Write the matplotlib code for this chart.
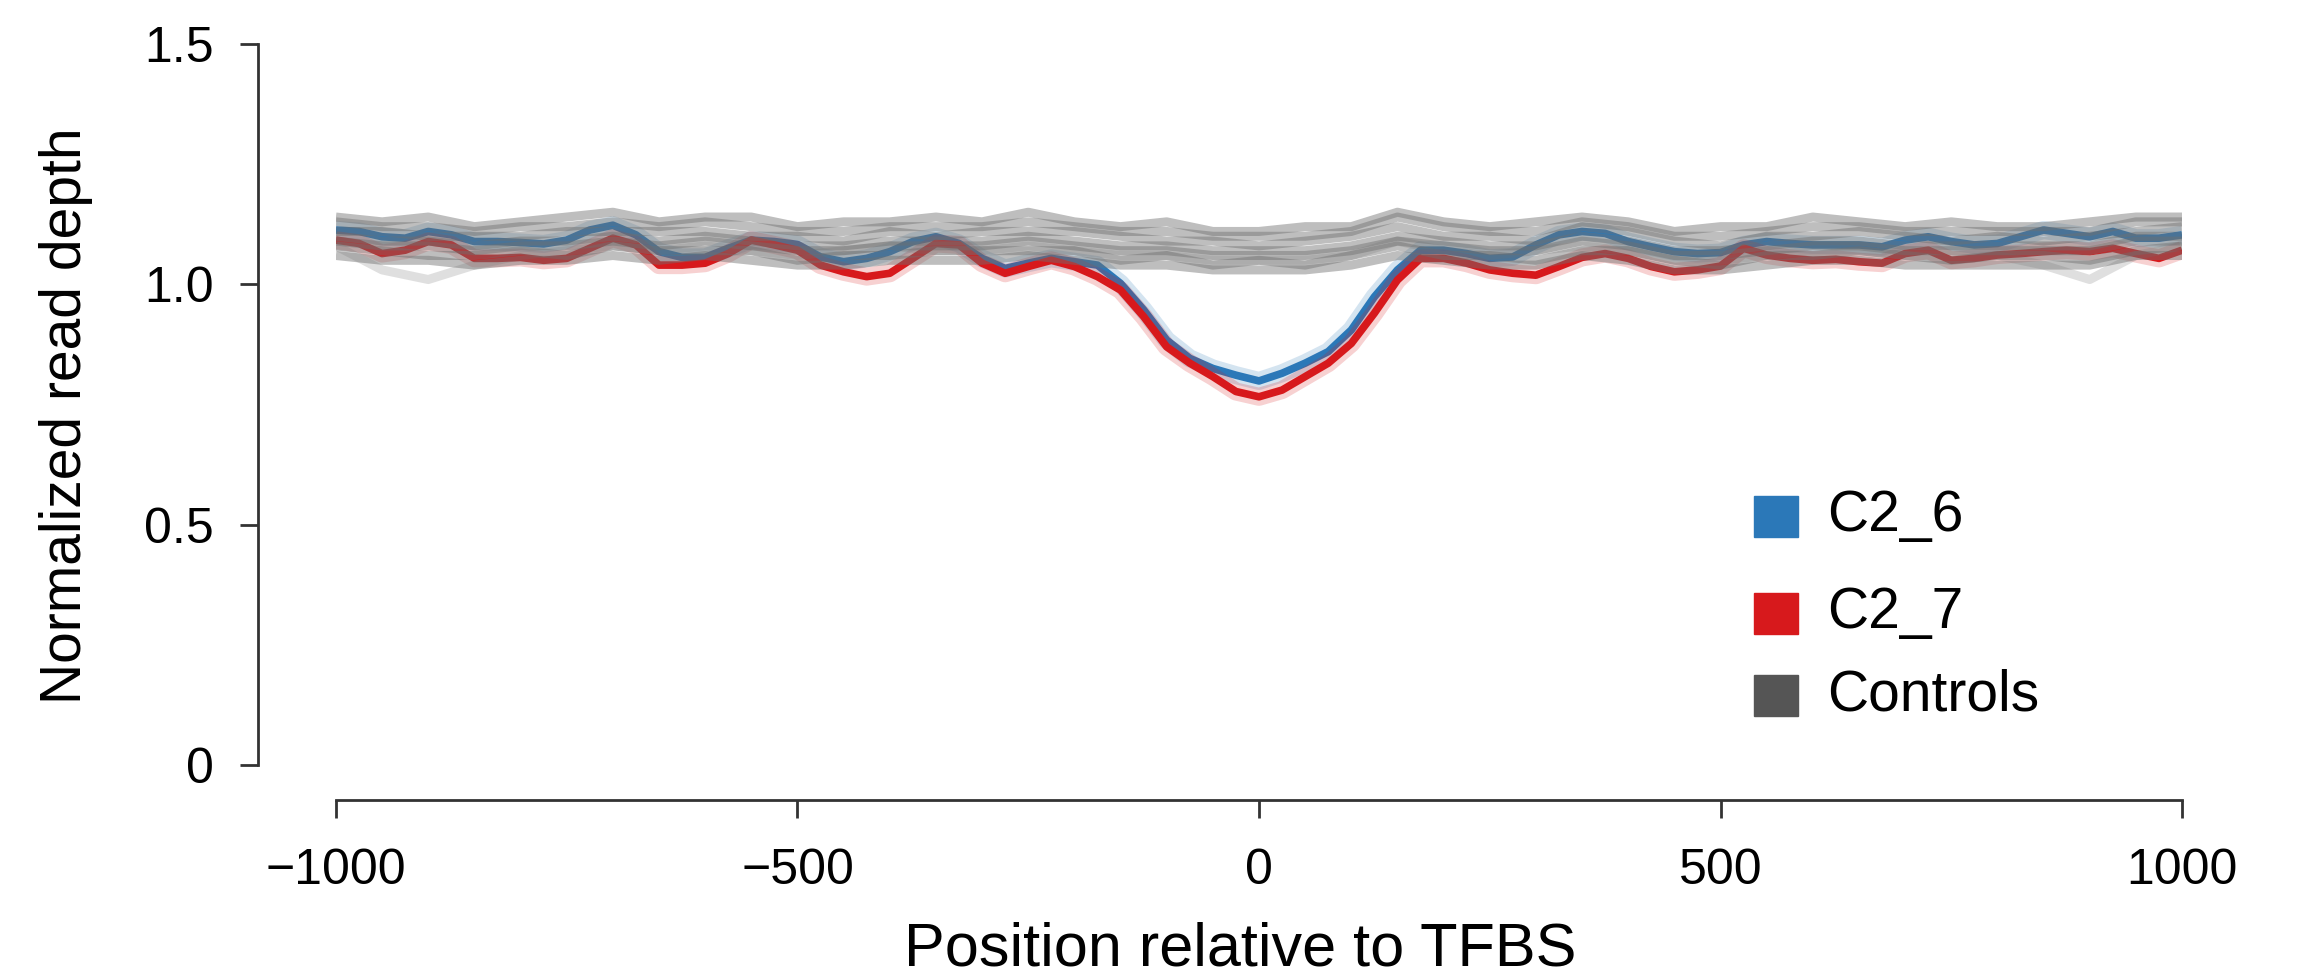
import matplotlib
matplotlib.use("Agg")
import matplotlib.pyplot as plt
from matplotlib.patches import Rectangle
import numpy as np

plt.rcParams['font.family'] = ['Liberation Sans', 'DejaVu Sans']

# positions relative to TFBS (bp)
pos_fine = np.arange(-1000, 1001, 25)
pos_ctrl = np.arange(-1000, 1001, 50)

# C2_6 (blue), read every 25 bp
c2_6 = [1.113, 1.110, 1.099, 1.096, 1.110, 1.103, 1.089, 1.089, 1.087, 1.084,
        1.092, 1.113, 1.123, 1.103, 1.068, 1.056, 1.056, 1.075, 1.092, 1.089,
        1.083, 1.057, 1.047, 1.054, 1.068, 1.089, 1.099, 1.085, 1.054, 1.033,
        1.044, 1.054, 1.047, 1.040, 1.002, 0.947, 0.884, 0.846, 0.825, 0.811,
        0.799, 0.815, 0.836, 0.860, 0.905, 0.974, 1.030, 1.071, 1.071, 1.064,
        1.054, 1.057, 1.082, 1.103, 1.110, 1.106, 1.089, 1.078, 1.068, 1.064,
        1.066, 1.082, 1.089, 1.085, 1.082, 1.082, 1.082, 1.078, 1.092, 1.099,
        1.089, 1.082, 1.085, 1.099, 1.113, 1.106, 1.099, 1.110, 1.096, 1.096,
        1.103]

# C2_7 (red)
c2_7 = [1.092, 1.085, 1.064, 1.071, 1.089, 1.082, 1.054, 1.054, 1.056, 1.050,
        1.054, 1.075, 1.096, 1.082, 1.040, 1.040, 1.044, 1.064, 1.092, 1.082,
        1.071, 1.040, 1.026, 1.016, 1.023, 1.054, 1.085, 1.082, 1.044, 1.023,
        1.037, 1.050, 1.037, 1.016, 0.988, 0.933, 0.870, 0.836, 0.808, 0.777,
        0.766, 0.780, 0.808, 0.836, 0.877, 0.940, 1.009, 1.054, 1.054, 1.044,
        1.030, 1.023, 1.019, 1.037, 1.056, 1.064, 1.054, 1.037, 1.026, 1.030,
        1.038, 1.075, 1.061, 1.054, 1.050, 1.052, 1.047, 1.044, 1.064, 1.071,
        1.050, 1.054, 1.061, 1.064, 1.068, 1.071, 1.068, 1.075, 1.064, 1.054,
        1.071]

# control samples, read every 50 bp
ctrl1 = [1.14, 1.13, 1.14, 1.12, 1.13, 1.14, 1.15, 1.13, 1.14, 1.14, 1.12, 1.13, 1.13, 1.14,
         1.13, 1.15, 1.13, 1.12, 1.13, 1.11, 1.11, 1.12, 1.12, 1.15, 1.13, 1.12, 1.13, 1.14,
         1.13, 1.11, 1.12, 1.12, 1.14, 1.13, 1.12, 1.13, 1.12, 1.12, 1.13, 1.14, 1.14]
ctrl2 = [1.13, 1.12, 1.12, 1.11, 1.12, 1.12, 1.13, 1.12, 1.13, 1.12, 1.11, 1.11, 1.12, 1.12,
         1.12, 1.13, 1.12, 1.11, 1.11, 1.10, 1.10, 1.10, 1.11, 1.14, 1.12, 1.11, 1.11, 1.13,
         1.12, 1.10, 1.10, 1.11, 1.12, 1.12, 1.11, 1.11, 1.11, 1.11, 1.11, 1.13, 1.13]
ctrl3 = [1.11, 1.11, 1.10, 1.10, 1.10, 1.11, 1.11, 1.11, 1.11, 1.10, 1.10, 1.09, 1.11, 1.10,
         1.11, 1.11, 1.11, 1.10, 1.09, 1.09, 1.08, 1.09, 1.10, 1.12, 1.10, 1.10, 1.09, 1.12,
         1.11, 1.09, 1.08, 1.10, 1.10, 1.11, 1.10, 1.09, 1.10, 1.09, 1.10, 1.11, 1.12]
ctrl4 = [1.10, 1.09, 1.09, 1.08, 1.09, 1.09, 1.10, 1.09, 1.10, 1.09, 1.08, 1.08, 1.09, 1.09,
         1.09, 1.10, 1.09, 1.08, 1.08, 1.07, 1.07, 1.07, 1.08, 1.10, 1.09, 1.08, 1.08, 1.10,
         1.09, 1.07, 1.07, 1.08, 1.09, 1.09, 1.08, 1.08, 1.08, 1.08, 1.08, 1.10, 1.10]
ctrl5 = [1.09, 1.08, 1.08, 1.07, 1.08, 1.08, 1.09, 1.08, 1.09, 1.08, 1.07, 1.07, 1.08, 1.08,
         1.08, 1.09, 1.08, 1.07, 1.07, 1.06, 1.06, 1.06, 1.07, 1.09, 1.08, 1.07, 1.07, 1.09,
         1.08, 1.06, 1.06, 1.07, 1.08, 1.08, 1.07, 1.07, 1.07, 1.07, 1.07, 1.09, 1.09]
ctrl6 = [1.08, 1.07, 1.06, 1.06, 1.07, 1.06, 1.08, 1.07, 1.07, 1.07, 1.05, 1.06, 1.06, 1.07,
         1.07, 1.07, 1.07, 1.05, 1.06, 1.04, 1.05, 1.04, 1.06, 1.08, 1.06, 1.06, 1.05, 1.07,
         1.07, 1.05, 1.04, 1.06, 1.06, 1.07, 1.06, 1.05, 1.06, 1.06, 1.05, 1.07, 1.08]
ctrl7 = [1.06, 1.05, 1.05, 1.04, 1.05, 1.05, 1.06, 1.05, 1.06, 1.05, 1.04, 1.04, 1.05, 1.05,
         1.05, 1.06, 1.05, 1.04, 1.04, 1.03, 1.03, 1.03, 1.04, 1.06, 1.05, 1.04, 1.04, 1.06,
         1.05, 1.03, 1.03, 1.04, 1.05, 1.05, 1.04, 1.04, 1.04, 1.04, 1.04, 1.06, 1.06]
ctrl8 = [1.08, 1.03, 1.01, 1.04, 1.06, 1.07, 1.08, 1.07, 1.08, 1.07, 1.06, 1.07, 1.08, 1.07,
         1.07, 1.08, 1.07, 1.06, 1.06, 1.05, 1.05, 1.05, 1.06, 1.09, 1.07, 1.06, 1.07, 1.08,
         1.07, 1.05, 1.05, 1.06, 1.07, 1.07, 1.06, 1.06, 1.06, 1.04, 1.01, 1.06, 1.08]
controls = [ctrl1, ctrl2, ctrl3, ctrl4, ctrl5, ctrl6, ctrl7, ctrl8]

labels = ['C2_6', 'C2_7', 'Controls']
colors = ['#2b78b8', '#d7191c', '#555555']

fig = plt.figure(figsize=(23.01, 9.8), dpi=100)
ax = fig.add_axes([0.1460, 0.2194, 0.8023, 0.7357])

# sample lines with a light halo
for y, c in [(c2_6, colors[0]), (c2_7, colors[1])]:
    ax.plot(pos_fine, y, color=c, lw=13, alpha=0.2, solid_capstyle='butt')
    ax.plot(pos_fine, y, color=c, lw=5.5, solid_capstyle='butt')

# controls drawn on top, semi transparent
for i, ctrl in enumerate(controls):
    a = 0.22 if i == 7 else 0.45
    ax.plot(pos_ctrl, ctrl, color='#6f6f6f', lw=6.5, alpha=a, solid_capstyle='butt')

ax.set_xlim(-1000, 1000)
ax.set_ylim(0, 1.5)
ax.set_xticks([-1000, -500, 0, 500, 1000])
ax.set_yticks([0, 0.5, 1.0, 1.5])
ax.set_yticklabels(['0', '0.5', '1.0', '1.5'])

for s in ['top', 'right']:
    ax.spines[s].set_visible(False)
ax.spines['left'].set_position(('outward', 56))
ax.spines['bottom'].set_position(('outward', 25))
ax.spines['left'].set_bounds(0, 1.5)
ax.spines['bottom'].set_bounds(-1000, 1000)
for s in ['left', 'bottom']:
    ax.spines[s].set_linewidth(2)
    ax.spines[s].set_color('#333333')

ax.tick_params(axis='both', length=13, width=2, color='#333333', labelsize=36)
ax.tick_params(axis='y', pad=19)
ax.tick_params(axis='x', pad=22)

ax.set_xlabel('Position relative to TFBS', fontsize=44, va='center')
ax.xaxis.set_label_coords(0.49, -0.2566)
ax.set_ylabel('Normalized read depth', fontsize=41, va='center')
ax.yaxis.set_label_coords(-0.1463, 0.485)

# legend with squares
leg_y = [0.473, 0.374, 0.290]
for lab, c, yy in zip(labels, colors, leg_y):
    fig.patches.append(Rectangle((0.7623, yy - 0.0209), 0.0191, 0.0418,
                                 transform=fig.transFigure, color=c))
    fig.text(0.794, yy, lab, fontsize=41, va='center', ha='left')

fig.savefig('out.png', dpi=100)
